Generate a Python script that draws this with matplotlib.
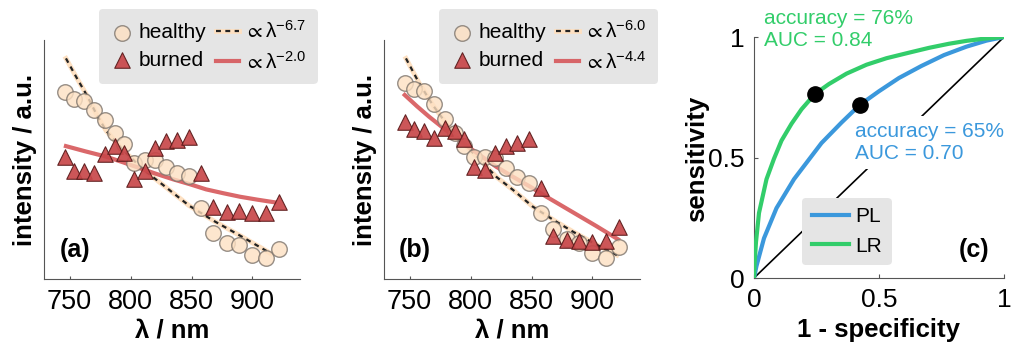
import matplotlib
matplotlib.use('Agg')
import matplotlib.pyplot as plt

plt.rcParams['font.family'] = ['Liberation Sans', 'DejaVu Sans']
plt.rcParams['mathtext.fontset'] = 'custom'
plt.rcParams['mathtext.rm'] = 'Liberation Sans'
plt.rcParams['mathtext.it'] = 'Liberation Sans'
plt.rcParams['mathtext.bf'] = 'Liberation Sans:bold'
plt.rcParams['mathtext.fallback'] = 'stixsans'

# wavelengths (nm), same for both spectra panels
wavelength = [746, 754, 762, 770, 779, 787, 795, 803, 812, 820,
              829, 838, 848, 858, 868, 879, 889, 900, 911, 922]

# panel (a), intensity in a.u.
healthy_a = [0.784, 0.752, 0.746, 0.707, 0.665, 0.612, 0.565, 0.486, 0.498, 0.498,
             0.467, 0.445, 0.431, 0.296, 0.191, 0.149, 0.142, 0.100, 0.087, 0.124]
burned_a = [0.509, 0.453, 0.453, 0.445, 0.523, 0.556, 0.528, 0.417, 0.452, 0.547,
            0.577, 0.582, 0.595, 0.442, 0.303, 0.282, 0.286, 0.275, 0.277, 0.323]
fit_h_a_x = [747, 756, 764, 772, 780, 793, 810, 829, 848, 868, 890, 915]
fit_h_a_y = [0.923, 0.840, 0.770, 0.690, 0.620, 0.544, 0.460, 0.384, 0.307, 0.244,
             0.181, 0.107]
fit_b_a_x = [747, 763, 780, 794, 808, 821, 835, 849, 862, 876, 890, 904, 918]
fit_b_a_y = [0.556, 0.534, 0.512, 0.488, 0.463, 0.440, 0.417, 0.396, 0.375, 0.359,
             0.344, 0.332, 0.321]

# panel (b)
healthy_b = [0.819, 0.794, 0.788, 0.732, 0.668, 0.610, 0.556, 0.509, 0.509, 0.505,
             0.463, 0.426, 0.400, 0.277, 0.208, 0.166, 0.149, 0.108, 0.087, 0.135]
burned_b = [0.658, 0.626, 0.621, 0.589, 0.631, 0.621, 0.585, 0.467, 0.456, 0.528,
            0.556, 0.568, 0.585, 0.382, 0.180, 0.163, 0.159, 0.156, 0.160, 0.219]
fit_h_b_x = [747, 758, 769, 780, 794, 808, 821, 835, 851, 868, 884, 901, 920]
fit_h_b_y = [0.923, 0.818, 0.728, 0.651, 0.568, 0.498, 0.428, 0.372, 0.303, 0.247,
             0.198, 0.150, 0.100]
fit_b_b_x = [746, 756, 766, 780, 794, 808, 821, 835, 849, 862, 876, 890, 903, 921]
fit_b_b_y = [0.770, 0.723, 0.679, 0.622, 0.568, 0.517, 0.470, 0.427, 0.386, 0.345,
             0.303, 0.261, 0.222, 0.166]

exp_labels_a = ['-6.7', '-2.0']
exp_labels_b = ['-6.0', '-4.4']

# panel (c), ROC curves
fpr_pl = [0, 0.01, 0.04, 0.09, 0.16, 0.27, 0.35, 0.423, 0.50, 0.58, 0.67, 0.76,
          0.85, 0.93, 1.0]
tpr_pl = [0, 0.05, 0.165, 0.29, 0.41, 0.56, 0.645, 0.718, 0.775, 0.83, 0.88, 0.925,
          0.96, 0.985, 1.0]
fpr_lr = [0, 0.003, 0.008, 0.02, 0.05, 0.08, 0.11, 0.15, 0.19, 0.243, 0.30, 0.37,
          0.45, 0.53, 0.62, 0.70, 0.78, 0.85, 0.92, 1.0]
tpr_lr = [0, 0.07, 0.15, 0.27, 0.41, 0.495, 0.57, 0.64, 0.70, 0.763, 0.805, 0.848,
          0.885, 0.912, 0.935, 0.955, 0.972, 0.984, 0.993, 1.0]
op_pl = (0.423, 0.718)
op_lr = (0.243, 0.763)

c_peach = '#fde0c2'
c_tri = '#c8474a'
c_red = '#d6575a'
c_blue = '#3b98dc'
c_green = '#32cd6a'
c_box = '#e5e5e5'

fig = plt.figure(figsize=(10.13, 3.47), dpi=100)
ax_a = fig.add_axes([44 / 1013, 68 / 347, 256 / 1013, 239 / 347])
ax_b = fig.add_axes([384 / 1013, 68 / 347, 256 / 1013, 239 / 347])
ax_c = fig.add_axes([754 / 1013, 69 / 347, 250 / 1013, 241 / 347])


def spectra_panel(ax, healthy, burned, fhx, fhy, fbx, fby, exps, letter):
    under, = ax.plot(fhx, fhy, color=c_peach, lw=3.5, zorder=2)
    dash, = ax.plot(fhx, fhy, color='#222222', lw=1.6, dashes=(2.2, 2.0), zorder=2.1)
    red, = ax.plot(fbx, fby, color=c_red, lw=3, alpha=0.9, zorder=2.2)
    h = ax.scatter(wavelength, healthy, s=125, marker='o', facecolor=c_peach,
                   edgecolor='#7d746c', linewidth=1, alpha=0.8, zorder=3)
    b = ax.scatter(wavelength, burned, s=125, marker='^', facecolor=c_tri,
                   edgecolor='#5a1a1a', linewidth=0.8, alpha=0.92, zorder=4)
    ax.set_xlim(729, 939)
    ax.set_ylim(0, 1)
    ax.set_xticks([750, 800, 850, 900])
    ax.set_yticks([])
    ax.tick_params(axis='x', direction='in', length=2.5, labelsize=19.5, pad=7,
                   color='#555555')
    for s in ['top', 'right']:
        ax.spines[s].set_visible(False)
    for s in ['left', 'bottom']:
        ax.spines[s].set_color('#555555')
    ax.set_ylabel('intensity / a.u.', fontsize=18.5, fontweight='bold')
    ax.yaxis.set_label_coords(-0.027, 0.5)
    ax.set_xlabel('λ / nm', fontsize=18.5, fontweight='bold', va='top')
    ax.xaxis.set_label_coords(0.5, -0.165)
    ax.text(0.121, 0.121, letter, transform=ax.transAxes, fontsize=18,
            fontweight='bold', ha='center', va='center')
    leg = ax.legend([h, b, (under, dash), red],
                    ['healthy', 'burned',
                     r'$\propto$λ$^{%s}$' % exps[0], r'$\propto$λ$^{%s}$' % exps[1]],
                    ncol=2, loc='upper left', bbox_to_anchor=(0.215, 1.13),
                    borderaxespad=0, fontsize=15, handlelength=1.1,
                    handletextpad=0.25, columnspacing=0.45, labelspacing=0.4,
                    borderpad=0.55, frameon=True, fancybox=True, scatterpoints=1)
    leg.get_frame().set_facecolor(c_box)
    leg.get_frame().set_edgecolor('none')
    leg.get_frame().set_alpha(1)
    leg.set_zorder(6)


spectra_panel(ax_a, healthy_a, burned_a, fit_h_a_x, fit_h_a_y,
              fit_b_a_x, fit_b_a_y, exp_labels_a, '(a)')
spectra_panel(ax_b, healthy_b, burned_b, fit_h_b_x, fit_h_b_y,
              fit_b_b_x, fit_b_b_y, exp_labels_b, '(b)')

# ROC panel
ax = ax_c
ax.plot([0, 1], [0, 1], color='black', lw=1.2, zorder=1)
pl, = ax.plot(fpr_pl, tpr_pl, color=c_blue, lw=3, zorder=3, solid_joinstyle='round')
lr, = ax.plot(fpr_lr, tpr_lr, color=c_green, lw=3, zorder=3, solid_joinstyle='round')
ax.plot(*op_lr, 'o', color='black', ms=11, zorder=4)
ax.plot(*op_pl, 'o', color='black', ms=11, zorder=4)
ax.text(0.04, 1.03, 'accuracy = 76%\nAUC = 0.84', transform=ax.transData,
        color=c_green, fontsize=15, ha='left', va='center', linespacing=1.2,
        clip_on=False)
ax.text(0.405, 0.562, 'accuracy = 65%\nAUC = 0.70', color=c_blue, fontsize=15,
        ha='left', va='center', linespacing=1.2, zorder=2.5,
        bbox=dict(facecolor='white', edgecolor='none', pad=4))
ax.text(0.882, 0.116, '(c)', transform=ax.transAxes, fontsize=18,
        fontweight='bold', ha='center', va='center')
ax.set_xlim(0, 1)
ax.set_ylim(0, 1)
ax.set_xticks([0, 0.5, 1])
ax.set_xticklabels(['0', '0.5', '1'])
ax.set_yticks([0, 0.5, 1])
ax.set_yticklabels(['0', '0.5', '1'])
ax.tick_params(direction='in', length=3, labelsize=19, pad=7, color='#555555')
for s in ['top', 'right']:
    ax.spines[s].set_visible(False)
for s in ['left', 'bottom']:
    ax.spines[s].set_color('#555555')
ax.set_ylabel('sensitivity', fontsize=18.5, fontweight='bold')
ax.yaxis.set_label_coords(-0.18, 0.494)
ax.set_xlabel('1 - specificity', fontsize=18.5, fontweight='bold', va='top')
ax.xaxis.set_label_coords(0.496, -0.166)
leg = ax.legend([pl, lr], ['PL', 'LR'], loc='lower left',
                bbox_to_anchor=(0.193, 0.054), borderaxespad=0, fontsize=15,
                handlelength=1.8, handletextpad=0.3, labelspacing=0.5,
                borderpad=0.45, fancybox=True)
leg.get_frame().set_facecolor(c_box)
leg.get_frame().set_edgecolor('none')
leg.get_frame().set_alpha(1)
leg.set_zorder(6)

fig.savefig('out.png', dpi=100)
